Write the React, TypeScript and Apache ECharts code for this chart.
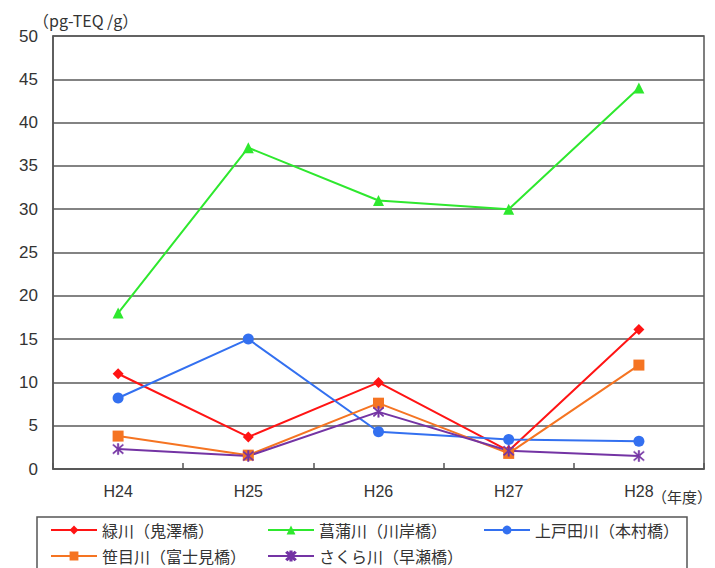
import React, { useEffect, useRef } from "react";
import * as echarts from "echarts";

const categories = ["H24", "H25", "H26", "H27", "H28"];
const seriesNames = [
  "緑川（鬼澤橋）",
  "菖蒲川（川岸橋）",
  "上戸田川（本村橋）",
  "笹目川（富士見橋）",
  "さくら川（早瀬橋）",
];
const midoriValues = [11, 3.7, 10, 2.1, 16.1];
const shobuValues = [18, 37.1, 31, 30, 44];
const kamitodaValues = [8.2, 15, 4.3, 3.4, 3.2];
const sasameValues = [3.8, 1.6, 7.6, 1.8, 12];
const sakuraValues = [2.3, 1.5, 6.6, 2.1, 1.5];
const yTicks = { min: 0, max: 50, interval: 5 };

const colors = ["#ff1414", "#2ee82e", "#3370f0", "#f57422", "#7434a4"];
const asterisk =
  "path://M4.4 0 L5.6 0 L5.6 10 L4.4 10 Z M0.6 1.4 L1.4 0.6 L9.4 8.6 L8.6 9.4 Z M9.4 1.4 L8.6 0.6 L0.6 8.6 L1.4 9.4 Z";
const symbols = ["diamond", "triangle", "circle", "rect", asterisk];
const symbolSizes = [11, 11, 11, 11, 11];
const values = [midoriValues, shobuValues, kamitodaValues, sasameValues, sakuraValues];

const legendPos = [
  { left: 50, top: 521 },
  { left: 267, top: 521 },
  { left: 483, top: 521 },
  { left: 50, top: 547 },
  { left: 267, top: 547 },
];

export default function App() {
  const ref = useRef<HTMLDivElement>(null);
  useEffect(() => {
    if (!ref.current) return;
    const chart = echarts.init(ref.current, null, { renderer: "svg" });
    const cjk = "'Noto Sans CJK JP', 'Noto Sans', sans-serif";
    chart.setOption({
      animation: false,
      backgroundColor: "#ffffff",
      grid: {
        left: 53,
        right: 11,
        top: 36,
        bottom: 99,
        show: true,
        borderColor: "#555",
        borderWidth: 1.5,
      },
      xAxis: {
        type: "category",
        data: categories,
        boundaryGap: true,
        axisLine: { lineStyle: { color: "#555", width: 1.5 } },
        axisTick: { show: true, inside: true, length: 6, lineStyle: { color: "#555", width: 1.5 } },
        axisLabel: {
          color: "#333",
          fontSize: 16,
          margin: 14,
          fontFamily: "'Liberation Sans', Arial, sans-serif",
        },
      },
      yAxis: {
        type: "value",
        min: yTicks.min,
        max: yTicks.max,
        interval: yTicks.interval,
        axisLine: { show: true, lineStyle: { color: "#555", width: 1.5 } },
        axisTick: { show: false },
        splitLine: { lineStyle: { color: "#5a5a5a", width: 1.5 } },
        axisLabel: {
          color: "#333",
          fontSize: 17,
          margin: 15,
          fontFamily: "'Liberation Sans', Arial, sans-serif",
        },
      },
      legend: seriesNames.map((name, i) => ({
        data: [name],
        left: legendPos[i].left,
        top: legendPos[i].top,
        padding: 0,
        itemWidth: 46,
        itemHeight: 11,
        itemGap: 0,
        textStyle: { fontSize: 16, color: "#333", fontFamily: cjk, lineHeight: 18 },
      })),
      series: seriesNames.map((name, i) => ({
        name,
        type: "line",
        data: values[i],
        symbol: symbols[i],
        symbolSize: symbolSizes[i],
        showAllSymbol: true,
        lineStyle: { color: colors[i], width: 2 },
        itemStyle: {
          color: colors[i],
          borderColor: colors[i],
          borderWidth: i === 4 ? 0.5 : 0,
        },
        emphasis: { disabled: true },
      })),
      graphic: [
        {
          type: "rect",
          shape: { x: 37, y: 517, width: 650, height: 60 },
          style: { fill: "none", stroke: "#555", lineWidth: 1.5 },
          silent: true,
        },
        {
          type: "text",
          x: 33,
          y: 12,
          style: {
            text: "（pg-TEQ /g）",
            fontSize: 16,
            fill: "#333",
            fontFamily: cjk,
          },
        },
        {
          type: "text",
          x: 652,
          y: 489,
          style: {
            text: "（年度）",
            fontSize: 15,
            fill: "#333",
            fontFamily: cjk,
          },
        },
      ],
    });
    return () => chart.dispose();
  }, []);
  return (
    <div
      ref={ref}
      style={{ position: "absolute", left: 0, top: 0, width: 715, height: 568, background: "#fff" }}
    />
  );
}
